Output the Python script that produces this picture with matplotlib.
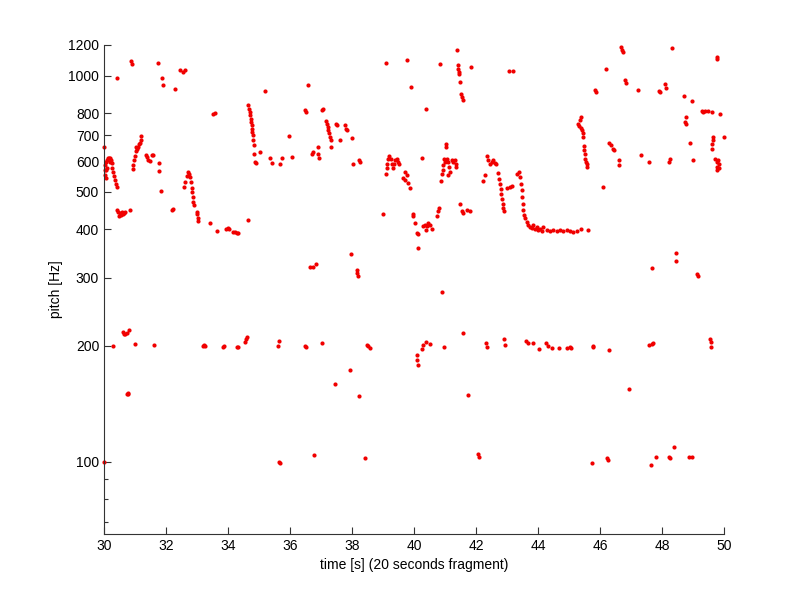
import matplotlib
matplotlib.use("Agg")
import matplotlib.pyplot as plt
from matplotlib.ticker import FixedLocator, NullFormatter

plt.rcParams['font.family'] = ['Liberation Sans', 'DejaVu Sans']
plt.rcParams['font.size'] = 10

# ---- data: time [s] and pitch [Hz], grouped by region ----
seg1_t = [30.00, 30.03, 30.03, 30.03, 30.06, 30.06, 30.06, 30.10, 30.10, 30.13, 30.16,
          30.19, 30.19, 30.23, 30.26, 30.26, 30.29, 30.32, 30.35, 30.39, 30.42]
seg1_f = [652, 586, 569, 552, 597, 569, 542, 604, 576, 611, 611,
          611, 597, 604, 593, 576, 562, 549, 536, 524, 514]

seg2_t = [30.42, 30.45, 30.48, 30.52, 30.55, 30.58, 30.61, 30.65, 30.68, 30.84]
seg2_f = [449, 444, 433, 441, 435, 444, 438, 441, 444, 449]

seg3_t = [30.93, 30.94, 30.97, 30.99, 31.02, 31.02, 31.07, 31.10, 31.14, 31.16, 31.19, 31.20,
          31.35, 31.38, 31.43, 31.48, 31.54, 31.59, 31.77, 31.78, 31.84]
seg3_f = [573, 586, 604, 618, 638, 652, 645, 652, 664, 668, 680, 697,
          622, 615, 604, 600, 622, 622, 593, 566, 502]

up1_t = [30.41, 30.86, 30.89, 31.73, 31.86, 31.89, 32.30, 32.45, 32.54, 32.61, 33.53, 33.58]
up1_f = [986, 1090, 1073, 1078, 986, 943, 925, 1032, 1021, 1032, 797, 800]

seg4_t = [32.18, 32.24, 32.59, 32.61, 32.69, 32.72, 32.75, 32.77, 32.80, 32.83, 32.85, 32.86,
          32.88, 32.90, 32.99, 33.01, 33.02, 33.04, 33.42, 33.66, 33.94, 33.99, 34.04, 34.15,
          34.23, 34.28, 34.33, 34.65]
seg4_f = [449, 451, 516, 531, 549, 563, 557, 545, 531, 513, 499, 485,
          471, 462, 444, 438, 427, 420, 414, 397, 401, 402, 401, 394,
          394, 392, 391, 423]

seg5_t = [34.65, 34.68, 34.70, 34.71, 34.73, 34.74, 34.76, 34.77, 34.78, 34.80, 34.82, 34.83,
          34.84, 34.87, 34.89]
seg5_f = [838, 821, 804, 789, 773, 758, 744, 729, 714, 701, 680, 660, 625, 597, 593]

seg6_t = [35.03, 35.19, 35.35, 35.41, 35.68, 35.73, 35.98, 36.05, 36.48, 36.52, 36.59, 36.70,
          36.75, 36.91, 36.91, 36.95, 37.02, 37.05, 37.16, 37.18, 37.21, 37.23, 37.26, 37.29,
          37.31, 37.32, 37.48, 37.53, 37.61, 37.77, 37.81, 37.83, 37.99, 38.02, 38.24, 38.26]
seg6_f = [634, 911, 612, 593, 590, 610, 697, 615, 813, 805, 947, 628,
          634, 654, 628, 612, 813, 821, 763, 751, 736, 722, 708, 694,
          683, 654, 747, 744, 680, 744, 729, 722, 690, 592, 604, 597]

up2_t = [39.09, 39.78, 39.90, 40.39, 40.85, 41.40, 41.42, 41.43, 41.44, 41.45, 41.48, 41.51,
         41.54, 41.59, 41.84, 43.07, 43.20]
up2_f = [1078, 1095, 934, 821, 1069, 1168, 1063, 1042, 1022, 1012, 962, 898,
         880, 863, 1053, 1028, 1028]

seg7_t = [38.99, 39.10, 39.12, 39.14, 39.17, 39.20, 39.25, 39.28, 39.31, 39.35, 39.39, 39.44,
          39.49, 39.53, 39.66, 39.71, 39.71, 39.76, 39.82, 39.87]
seg7_f = [439, 557, 575, 592, 609, 618, 609, 592, 575, 592, 606, 609,
          597, 592, 542, 563, 536, 552, 526, 513]

seg8_t = [39.96, 39.98, 40.04, 40.09, 40.12, 40.14, 40.25, 40.28, 40.35, 40.39, 40.43, 40.46,
          40.52, 40.57, 40.73, 40.78, 40.82]
seg8_f = [439, 433, 414, 390, 389, 357, 612, 407, 410, 398, 407, 414,
          410, 401, 433, 446, 453]

seg9_t = [40.86, 40.90, 40.93, 40.95, 40.97, 41.00, 41.02, 41.03, 41.07, 41.11, 41.11, 41.14,
          41.16, 41.22, 41.27, 41.32, 41.35, 41.37, 41.48, 41.54, 41.59, 41.70, 41.81]
seg9_f = [534, 557, 569, 586, 609, 597, 664, 654, 609, 597, 552, 580,
          563, 604, 597, 604, 592, 580, 466, 446, 441, 449, 446]

seg10_t = [42.24, 42.29, 42.36, 42.40, 42.45, 42.51, 42.56, 42.61, 42.65, 42.72, 42.75, 42.77,
           42.80, 42.81, 42.84, 42.86, 42.88, 42.90, 42.99, 43.10, 43.15, 43.31]
seg10_f = [534, 554, 618, 604, 592, 597, 604, 593, 592, 559, 541, 524,
           508, 493, 479, 466, 455, 445, 513, 515, 519, 557]

seg11_t = [43.39, 43.42, 43.45, 43.47, 43.49, 43.51, 43.53, 43.55, 43.58, 43.64, 43.69, 43.74,
           43.80, 43.85, 43.90, 43.96, 44.01, 44.06, 44.12, 44.17, 44.28, 44.39, 44.49, 44.60,
           44.71, 44.82, 44.93, 45.03, 45.14, 45.25, 45.38, 45.62]
seg11_f = [563, 547, 525, 505, 486, 466, 449, 435, 427, 418, 410, 406,
           404, 410, 401, 406, 398, 401, 397, 406, 398, 397, 398, 397,
           398, 397, 398, 396, 394, 397, 401, 398]

seg12_t = [45.30, 45.33, 45.35, 45.38, 45.39, 45.41, 45.44, 45.46, 45.48, 45.49, 45.51, 45.53,
           45.55, 45.57, 45.59]
seg12_f = [751, 739, 766, 733, 781, 722, 708, 694, 657, 643, 628, 609, 597, 589, 580]

seg13_t = [45.84, 45.87, 46.11, 46.18, 46.30, 46.35, 46.41, 46.45, 46.60, 46.62, 46.68, 46.71,
           46.75, 46.81, 46.84, 47.23, 47.31, 47.57, 47.91, 47.94, 48.11, 48.13, 48.24, 48.26,
           48.31, 48.71, 48.75, 48.77, 48.78, 48.90, 48.98, 49.01, 49.28, 49.33, 49.39, 49.49,
           49.60, 49.60, 49.62, 49.63, 49.66, 49.71, 49.76, 49.77, 49.76, 49.76, 49.78, 49.81,
           49.84, 49.85, 49.87, 50.00]
seg13_f = [916, 907, 515, 1042, 667, 660, 647, 641, 586, 604, 1186, 1168,
           1151, 976, 957, 920, 622, 596, 912, 907, 953, 927, 597, 609,
           1179, 884, 758, 781, 751, 667, 860, 606, 808, 804, 810, 808,
           805, 647, 664, 694, 680, 609, 597, 580, 569, 1118, 1106, 604,
           592, 575, 797, 694]

low_t = [30.00, 30.30, 30.62, 30.65, 30.68, 30.73, 30.82, 31.00, 30.73, 30.76, 30.78, 31.62,
         33.20, 33.23, 33.26, 33.85, 33.87, 34.28, 34.33, 34.55, 34.58, 34.62, 35.62, 35.65,
         35.65, 35.68, 36.48, 36.51, 36.65, 36.75, 36.83, 36.77, 37.02, 37.45, 37.94, 37.97,
         38.15, 38.17, 38.20, 38.24, 38.42, 38.47, 38.53, 38.58,
         40.09, 40.11, 40.14, 40.25, 40.28, 40.40, 40.52, 40.89, 40.98, 41.59, 41.73, 42.07,
         42.10, 42.32, 42.34, 42.91, 42.94, 43.61, 43.69, 43.83, 44.04, 44.26, 44.33, 44.44,
         44.69, 44.92, 45.03, 45.08, 45.76, 45.77, 46.29, 45.73, 46.24, 46.27, 46.95, 47.59,
         47.67, 47.72, 47.69, 47.64, 47.81, 48.24, 48.26, 48.39, 48.44, 48.45, 48.88, 48.96,
         49.12, 49.15, 49.55, 49.58, 49.59]
low_f = [100, 200, 217, 214, 214, 216, 219, 202, 150, 151, 150, 201,
         200, 201, 199, 198, 199, 198, 198, 204, 208, 211, 200, 206,
         100, 99, 200, 198, 319, 319, 325, 104, 203, 159, 173, 346,
         314, 308, 302, 148, 102, 201, 199, 197,
         189, 183, 178, 196, 201, 204, 202, 275, 198, 215, 149, 105,
         103, 203, 198, 208, 201, 206, 203, 203, 196, 203, 199, 197,
         197, 197, 198, 197, 200, 198, 195, 99, 102, 101, 154, 201,
         202, 203, 318, 98, 103, 103, 102, 109, 347, 331, 103, 103,
         307, 302, 208, 204, 198]

y_ticks = [100, 200, 300, 400, 500, 600, 700, 800, 1000, 1200]
y_minor = [70, 80, 90]
x_ticks = [30, 32, 34, 36, 38, 40, 42, 44, 46, 48, 50]

groups = [(seg1_t, seg1_f), (seg2_t, seg2_f), (seg3_t, seg3_f), (up1_t, up1_f),
          (seg4_t, seg4_f), (seg5_t, seg5_f), (seg6_t, seg6_f), (up2_t, up2_f),
          (seg7_t, seg7_f), (seg8_t, seg8_f), (seg9_t, seg9_f), (seg10_t, seg10_f),
          (seg11_t, seg11_f), (seg12_t, seg12_f), (seg13_t, seg13_f), (low_t, low_f)]

fig = plt.figure(figsize=(8, 6), dpi=100)
ax = fig.add_axes([0.13, 0.11, 0.775, 0.815])
for t, f in groups:
    ax.plot(t, f, linestyle='none', marker='o', markersize=3.0,
            markerfacecolor='#f00000', markeredgewidth=0, clip_on=False)

ax.set_yscale('log')
ax.set_xlim(30, 50)
ax.set_ylim(65, 1200)
ax.set_yticks(y_ticks)
ax.set_yticklabels([str(v) for v in y_ticks])
ax.yaxis.set_minor_locator(FixedLocator(y_minor))
ax.yaxis.set_minor_formatter(NullFormatter())
ax.set_xticks(x_ticks)
ax.set_xticklabels([str(v) for v in x_ticks])
ax.xaxis.set_minor_locator(FixedLocator([]))

for s in ['top', 'right']:
    ax.spines[s].set_visible(False)
for s in ['left', 'bottom']:
    ax.spines[s].set_color('#333333')
    ax.spines[s].set_linewidth(0.8)
ax.tick_params(which='major', direction='in', length=5, width=0.8, colors='#333333',
               labelcolor='black', labelsize=10)
ax.tick_params(which='minor', direction='in', length=3, width=0.8, colors='#333333')

ax.set_xlabel('time [s] (20 seconds fragment)', fontsize=10)
ax.set_ylabel('pitch [Hz]', fontsize=10)

fig.savefig('out.png', dpi=100, facecolor='white')
